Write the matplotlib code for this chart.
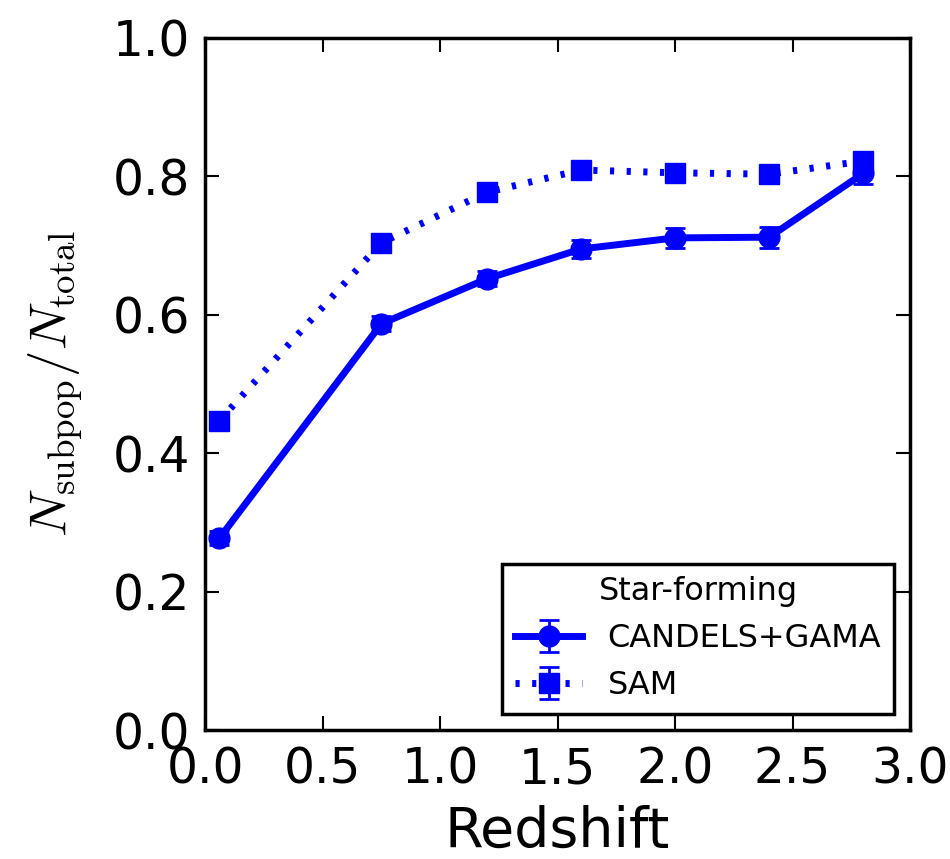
import numpy as np
import matplotlib
matplotlib.use('Agg')
import matplotlib.pyplot as plt

redshift = [0.06, 0.75, 1.2, 1.6, 2.0, 2.4, 2.8]
obs_frac = [0.277, 0.587, 0.652, 0.695, 0.711, 0.712, 0.804]
obs_err = [0.010, 0.011, 0.011, 0.013, 0.014, 0.015, 0.015]
sam_frac = [0.447, 0.704, 0.777, 0.809, 0.805, 0.803, 0.822]
sam_err = [0.008, 0.007, 0.007, 0.007, 0.007, 0.007, 0.009]

plt.rcParams['mathtext.fontset'] = 'cm'
plt.rcParams['lines.scale_dashes'] = False

fig = plt.figure(figsize=(9.5, 8.59), dpi=100)
ax = fig.add_axes([0.216, 0.150, 0.742, 0.806])

ax.errorbar(redshift, obs_frac, yerr=obs_err, color='b', marker='o', ms=15,
            lw=5, capsize=7, capthick=2, elinewidth=2, label='CANDELS+GAMA')
ax.errorbar(redshift, sam_frac, yerr=sam_err, color='b', marker='s', ms=14,
            lw=5, ls=(0, (3, 9)), capsize=7, capthick=2, elinewidth=2,
            label='SAM')

ax.set_xlim(0, 3)
ax.set_ylim(0, 1)
ax.set_xticks(np.arange(0, 3.01, 0.5))
ax.set_yticks(np.arange(0, 1.01, 0.2))
ax.tick_params(direction='in', length=10, width=1.5, top=True, right=True,
               labelsize=35, pad=11)
for s in ax.spines.values():
    s.set_linewidth(2.5)

ax.set_xlabel('Redshift', fontsize=40, labelpad=8)
ax.set_ylabel(r'$N_{\rm subpop}/N_{\rm total}$', fontsize=38, labelpad=20)

leg = ax.legend(loc='lower right', fontsize=23, title='Star-forming',
                title_fontsize=23, numpoints=1, fancybox=False, framealpha=1,
                handlelength=2.1, borderaxespad=0.5)
leg.get_frame().set_edgecolor('k')
leg.get_frame().set_linewidth(2.5)

fig.savefig('out.png', dpi=100)
